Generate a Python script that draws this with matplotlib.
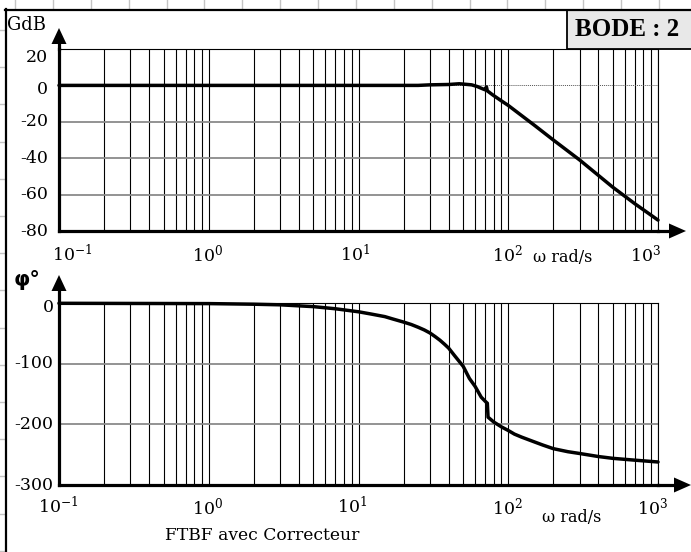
import numpy as np
import matplotlib
matplotlib.use("Agg")
import matplotlib.pyplot as plt
from matplotlib.patches import Polygon, Rectangle
from matplotlib.lines import Line2D
from matplotlib.ticker import LogLocator, NullFormatter

plt.rcParams['font.family'] = ['DejaVu Serif']
plt.rcParams['mathtext.fontset'] = 'dejavuserif'

# ---- data -------------------------------------------------------------
omega_gain = [0.1, 1, 10, 25, 30, 40, 47, 52, 57, 62, 68, 70, 71.5, 72.5,
              79, 90, 100, 150, 200, 300, 500, 700, 1000]
gain_db = [0, 0, 0, 0, 0.3, 0.5, 0.9, 0.6, 0.3, -0.6, -2.0, -2.4, -0.8, -3.0,
           -5.3, -8.5, -11, -22, -30, -41, -56, -65, -74]

omega_phase = [0.1, 1, 2, 3, 5, 7, 10, 12, 15, 17, 20, 22.5, 25, 27.5, 30,
               32.5, 35, 37.5, 40, 44, 50, 55, 60, 66, 71, 72.5, 73.3, 80,
               90, 100, 110, 123, 150, 170, 200, 250, 300, 400, 500, 700, 1000]
phase_deg = [0, -0.5, -1.5, -2.5, -5.5, -9, -14, -17.5, -22, -26, -31, -35,
             -39.5, -44, -49, -55, -61, -67.5, -74, -87, -104, -124, -137,
             -155, -163, -165, -188, -196, -204, -210, -216, -221, -229,
             -234, -240, -245, -248, -253, -256, -259, -262]

gain_ticks = [20, 0, -20, -40, -60, -80]
phase_ticks = [0, -100, -200, -300]
decades = [0.1, 1, 10, 100, 1000]
decade_labels = [r'$10^{-1}$', r'$10^{0}$', r'$10^{1}$', r'$10^{2}$', r'$10^{3}$']

# ---- figure -----------------------------------------------------------
W, H = 691, 552
fig = plt.figure(figsize=(W / 100, H / 100), dpi=100)
fig.patch.set_facecolor('white')


def fx(px):
    return px / W


def fy(py):
    return 1 - py / H


def fig_line(xs, ys, **kw):
    fig.add_artist(Line2D([fx(x) for x in xs], [fy(y) for y in ys],
                          transform=fig.transFigure, **kw))


def fig_poly(pts, **kw):
    fig.add_artist(Polygon([(fx(x), fy(y)) for x, y in pts], closed=True,
                           transform=fig.transFigure, **kw))


# light sheet grid around the frame
for k in range(19):
    x = 15 + 37.88 * k
    fig_line([x, x], [0, 8], color='#c4c4c4', lw=1.0)
for k in range(15):
    y = 30 + 37.2 * k
    fig_line([0, 5], [y, y], color='#c4c4c4', lw=1.0)

# outer frame
fig_line([6, 6], [9, H], color='black', lw=1.6)
fig_line([5, W], [9.5, 9.5], color='black', lw=1.6)

# title box
fig.add_artist(Rectangle((fx(567), fy(49)), fx(692) - fx(567), fy(9.5) - fy(49),
                         transform=fig.transFigure, facecolor='#e8e8e8',
                         edgecolor='black', lw=1.3))
fig.text(fx(627), fy(29), 'BODE : 2', family='Liberation Serif',
         weight='bold', fontsize=18, ha='center', va='center')

left, right = 59, 658
ax1 = fig.add_axes([fx(left), fy(231), fx(right) - fx(left), fy(49) - fy(231)])
ax2 = fig.add_axes([fx(left), fy(485), fx(right) - fx(left), fy(303.3) - fy(485)])


def style_axes(ax, ylo, yhi):
    ax.set_xscale('log')
    ax.set_xlim(0.1, 1000)
    ax.set_ylim(ylo, yhi)
    ax.xaxis.set_major_locator(LogLocator(base=10, numticks=10))
    ax.xaxis.set_minor_locator(LogLocator(base=10, subs=np.arange(2, 10), numticks=20))
    ax.xaxis.set_minor_formatter(NullFormatter())
    ax.set_xticklabels([])
    ax.tick_params(axis='x', which='both', length=0)
    ax.grid(axis='x', which='both', color='black', lw=0.8)
    ax.set_axisbelow(True)
    for s in ('top', 'right'):
        ax.spines[s].set_linewidth(0.8)
    for s in ('left', 'bottom'):
        ax.spines[s].set_linewidth(2.3)


style_axes(ax1, -80, 20)
style_axes(ax2, -300, 0)

# horizontal grid
for v in (-20, -40, -60):
    ax1.axhline(v, color='#8a8a8a', lw=1.3, zorder=1)
ax1.axhline(0, color='#555555', lw=0.7, ls=(0, (1, 1)), zorder=1)
for v in (-100, -200):
    ax2.axhline(v, color='#8a8a8a', lw=1.3, zorder=1)

# curves
ax1.plot(omega_gain, gain_db, color='black', lw=2.5, solid_joinstyle='round',
         solid_capstyle='round', clip_on=False, zorder=5)
ax2.plot(omega_phase, phase_deg, color='black', lw=2.5, solid_joinstyle='round',
         solid_capstyle='round', clip_on=False, zorder=5)

# y tick labels
ax1.set_yticks(gain_ticks)
ax1.set_yticklabels([])
ax2.set_yticks(phase_ticks)
ax2.set_yticklabels([])
for ax in (ax1, ax2):
    ax.tick_params(axis='y', length=0)
    ax.yaxis.grid(False)

for v in gain_ticks:
    dy = -6 if v == 20 else (-3 if v == 0 else 0)
    ax1.annotate(str(v), xy=(0, v), xycoords=('axes fraction', 'data'),
                 xytext=(-8, dy), textcoords='offset points',
                 ha='right', va='center', fontsize=12.5)
for v in phase_ticks:
    dy = -3 if v == 0 else 0
    ax2.annotate(str(v), xy=(0, v), xycoords=('axes fraction', 'data'),
                 xytext=(-4, dy), textcoords='offset points',
                 ha='right', va='center', fontsize=12.5)

# decade labels
up_off = [-5, -12, -13, -11.5, -20]
low_off = [-15, -12, -15.5, -11.5, -15]
for w, lab, o in zip(decades, decade_labels, up_off):
    ax1.annotate(lab, xy=(w, 0), xycoords=('data', 'axes fraction'),
                 xytext=(o, -9), textcoords='offset points',
                 ha='left', va='top', fontsize=12.5)
for w, lab, o in zip(decades, decade_labels, low_off):
    ax2.annotate(lab, xy=(w, 0), xycoords=('data', 'axes fraction'),
                 xytext=(o, -8), textcoords='offset points',
                 ha='left', va='top', fontsize=12.5)

# axis names
fig.text(fx(7), fy(25), 'GdB', ha='left', va='center', fontsize=13)
fig.text(fx(14), fy(280), 'φ°', ha='left', va='center', fontsize=15,
         weight='bold', family='DejaVu Sans')
fig.text(fx(533), fy(257), 'ω rad/s', ha='left', va='center', fontsize=11.5)
fig.text(fx(542), fy(518), 'ω rad/s', ha='left', va='center', fontsize=11.5)
fig.text(fx(165), fy(535), 'FTBF avec Correcteur', ha='left', va='center',
         fontsize=12.3)

# arrows on the axes
fig_line([59, 59], [49, 40], color='black', lw=2.3)
fig_poly([(59, 28), (51.5, 44), (66.5, 44)], facecolor='black', edgecolor='none')
fig_line([59, 59], [303.3, 292], color='black', lw=2.3)
fig_poly([(59, 275), (51.5, 291), (66.5, 291)], facecolor='black', edgecolor='none')
fig_line([658, 670], [231, 231], color='black', lw=2.3)
fig_poly([(686, 231), (669, 223.5), (669, 238.5)], facecolor='black', edgecolor='none')
fig_line([658, 675], [485, 485], color='black', lw=2.3)
fig_poly([(691, 485), (674, 477.5), (674, 492.5)], facecolor='black', edgecolor='none')

fig.savefig('out.png', dpi=100)
